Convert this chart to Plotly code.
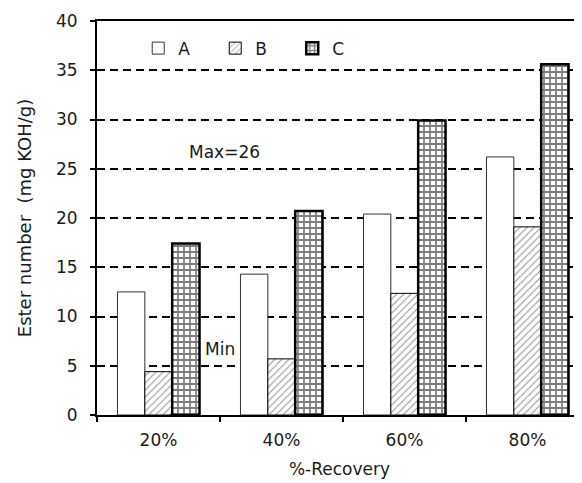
import plotly.graph_objects as go

categories = ["20%", "40%", "60%", "80%"]
series_A = [12.5, 14.3, 20.4, 26.2]
series_B = [4.4, 5.7, 12.35, 19.1]
series_C = [17.4, 20.7, 29.9, 35.6]
y_ticks = [0, 5, 10, 15, 20, 25, 30, 35, 40]

FONT = "DejaVu Sans"
fig = go.Figure()
fig.add_trace(go.Bar(name="A", x=categories, y=series_A,
                     marker=dict(color="white", line=dict(color="#333", width=1))))
fig.add_trace(go.Bar(name="B", x=categories, y=series_B,
                     marker=dict(color="white", line=dict(color="black", width=1),
                                 pattern=dict(shape="/", fgcolor="#222", bgcolor="white",
                                              size=5, solidity=0.2))))
fig.add_trace(go.Bar(name="C", x=categories, y=series_C,
                     marker=dict(color="white", line=dict(color="black", width=2.5),
                                 pattern=dict(shape="+", fgcolor="#000", bgcolor="white",
                                              size=6, solidity=0.5))))
# invisible trace on overlay axis for inner ticks
fig.add_trace(go.Scatter(x=categories[:1], y=[0], yaxis="y2", mode="markers",
                         marker=dict(opacity=0), showlegend=False, hoverinfo="skip"))

fig.update_layout(
    width=574, height=475,
    margin=dict(l=89, r=0, t=13, b=68),
    paper_bgcolor="white", plot_bgcolor="white",
    barmode="group", bargap=0.333, bargroupgap=0,
    font=dict(family=FONT, size=17, color="#1a1a1a"),
    xaxis=dict(type="category", range=[-0.5, 3.443], tickson="boundaries",
               ticks="outside", ticklen=5, tickwidth=2, tickcolor="black",
               showline=True, linecolor="black", linewidth=2, mirror=True,
               showgrid=False, tickfont=dict(size=17), ticklabelstandoff=9,
               title=dict(text="%-Recovery", font=dict(size=17), standoff=14)),
    yaxis=dict(range=[0, 40], tickvals=y_ticks, ticks="outside", ticklen=5,
               tickwidth=2, tickcolor="black", showline=True, linecolor="black",
               linewidth=2, showgrid=True, gridcolor="black", gridwidth=2,
               griddash="8px,5px", zeroline=False, tickfont=dict(size=17),
               ticklabelstandoff=9,
               title=dict(text="Ester number  (mg KOH/g)", font=dict(size=18), standoff=20)),
    yaxis2=dict(range=[0, 40], overlaying="y", tickvals=y_ticks, ticks="inside",
                ticklen=4, tickwidth=2, tickcolor="black", showticklabels=False,
                showgrid=False, zeroline=False, side="left", showline=False),
    legend=dict(orientation="h", x=0.085, y=0.93, xanchor="left", yanchor="middle",
                entrywidth=32, itemwidth=30, font=dict(size=17), bgcolor="rgba(0,0,0,0)"),
    annotations=[
        dict(x=0.54, y=26.7, xref="x", yref="y", text="Max=26", showarrow=False,
             font=dict(size=17, color="#1a1a1a")),
        dict(x=0.5, y=6.7, xref="x", yref="y", text="Min", showarrow=False,
             font=dict(size=17, color="#1a1a1a")),
    ],
)
fig.write_html("out.html")
